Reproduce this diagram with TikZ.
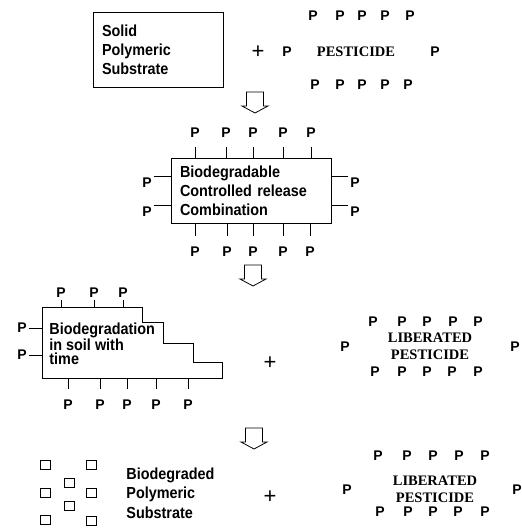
\documentclass[tikz,border=0pt]{standalone}
\usepackage{fontspec}
\setmainfont{Liberation Serif}
\setsansfont{Liberation Sans}
\newfontfamily\geofont[FakeStretch=0.9]{Liberation Sans}
\usetikzlibrary{positioning}

\tikzset{
	pp/.style={font=\fontsize{14}{14}\selectfont\sffamily\bfseries, inner sep=0pt, outer sep=2pt},
	lbl/.style={font=\fontsize{16}{19}\selectfont\geofont\bfseries, align=left, inner sep=0pt},
	pest/.style={font=\fontsize{14.5}{17}\selectfont\bfseries, align=center, inner sep=0pt},
	plus/.style={font=\fontsize{22}{22}\selectfont\sffamily, inner sep=0pt},
	frag/.style={draw, minimum width=10, minimum height=9, inner sep=0pt},
	pics/hollow arrow/.style={code={
		\draw (-8.5,0) -- (-8.5,14) -- (-13,14) -- (0,21) -- (13,14) -- (8.5,14) -- (8.5,0) -- cycle;
	}},
}

\begin{document}
\begin{tikzpicture}[x=1pt, y=-1pt, line width=0.8pt]
	\useasboundingbox (0,0) rectangle (521,529);

	% polymer + pesticide
	\node[draw, lbl, minimum width=130, minimum height=75, text width=112, inner xsep=9pt] (solid) at (158,49.5) {Solid\\Polymeric\\Substrate};
	\node[plus] (plus1) at (258,52) {+};
	\node[pest] (pest) at (356,52) {PESTICIDE};
	\node[pp] (pl) at (287,52) {P};
	\node[pp] (pr) at (435,52) {P};
	\foreach \x [count=\i] in {313,340,362,385,410} \node[pp] (pt\i) at (\x,16) {P};
	\foreach \x [count=\i] in {315,340,362,385,408} \node[pp] (pb\i) at (\x,85) {P};

	\pic at (255,92) {hollow arrow};

	% controlled release combination
	\node[draw, lbl, minimum width=160, minimum height=65, text width=142, inner xsep=9pt] (mix) at (251,190.5) {Biodegradable\\Controlled release\\Combination};
	\foreach \x [count=\i] in {195,226,253,283,311} {
		\node[pp] (mt\i) at (\x,133) {P};
		\draw[shorten <=7pt] (mt\i.south) -- (mt\i.south |- mix.north);
	}
	\foreach \x [count=\i] in {195,227,253,283,310} {
		\node[pp] (mb\i) at (\x,252) {P};
		\draw[shorten >=9pt] (mb\i.north |- mix.south) -- (mb\i.north);
	}
	\foreach \y [count=\i] in {183,212} {
		\node[pp] (ml\i) at (147,\y) {P};
		\draw (ml\i.north east) -- (ml\i.north east -| mix.west);
		\node[pp] (mr\i) at (355,\y) {P};
		\draw (mr\i.north west) -- (mr\i.north west -| mix.east);
	}

	\pic at (253,265) {hollow arrow};

	% degradation in soil
	\coordinate (deg) at (42,307);
	\coordinate (degb) at (42,378);
	\draw (deg) -- (142,307) -- (142,322) -- (163,322) -- (163,343) -- (193,343) -- (193,362) -- (222,362) -- (222,378) -- (degb) -- cycle;
	\node[lbl, font=\fontsize{16}{14.5}\selectfont\geofont\bfseries, anchor=west] (soil) at (49,344) {Biodegradation\\in soil with\\time};
	\foreach \x [count=\i] in {61,94,123} {
		\node[pp] (st\i) at (\x,293) {P};
		\draw (st\i.south) -- (st\i.south |- deg);
	}
	\foreach \y [count=\i] in {328,355} {
		\node[pp] (sl\i) at (22,\y) {P};
		\draw (sl\i.east) -- (sl\i.east -| deg);
	}
	\foreach \x [count=\i] in {68,100,127,156,188} {
		\node[pp] (sb\i) at (\x,405) {P};
		\draw[shorten >=9pt] (sb\i.north |- degb) -- (sb\i.north);
	}
	\node[plus] (plus2) at (270,363) {+};
	\node[pest] (lib1) at (430,346.5) {LIBERATED\\PESTICIDE};
	\node[pp] (ll1) at (345,347) {P};
	\node[pp] (lr1) at (515,347) {P};
	\foreach \x [count=\i] in {373,402,427,453,478} \node[pp] (lt\i) at (\x,322) {P};
	\foreach \x [count=\i] in {375,402,427,452,478} \node[pp] (lb\i) at (\x,372) {P};

	\pic at (254,428) {hollow arrow};

	% degraded polymer
	\foreach \x/\y [count=\i] in {45/465, 91/465, 69/483, 45/493, 91/493, 69/506, 45/520, 91/521}
		\node[frag] (sq\i) at (\x,\y) {};
	\node[lbl, font=\fontsize{16}{19.5}\selectfont\geofont\bfseries, anchor=west] (rest) at (126,493) {Biodegraded\\Polymeric\\Substrate};
	\node[plus] (plus3) at (270,497) {+};
	\node[pest] (lib2) at (435,489.5) {LIBERATED\\PESTICIDE};
	\node[pp] (ll2) at (347,490) {P};
	\node[pp] (lr2) at (517,490) {P};
	\foreach \x [count=\i] in {378,407,433,459,485} \node[pp] (ut\i) at (\x,456) {P};
	\foreach \x [count=\i] in {380,408,433,458,485} \node[pp] (ub\i) at (\x,512) {P};
\end{tikzpicture}
\end{document}
